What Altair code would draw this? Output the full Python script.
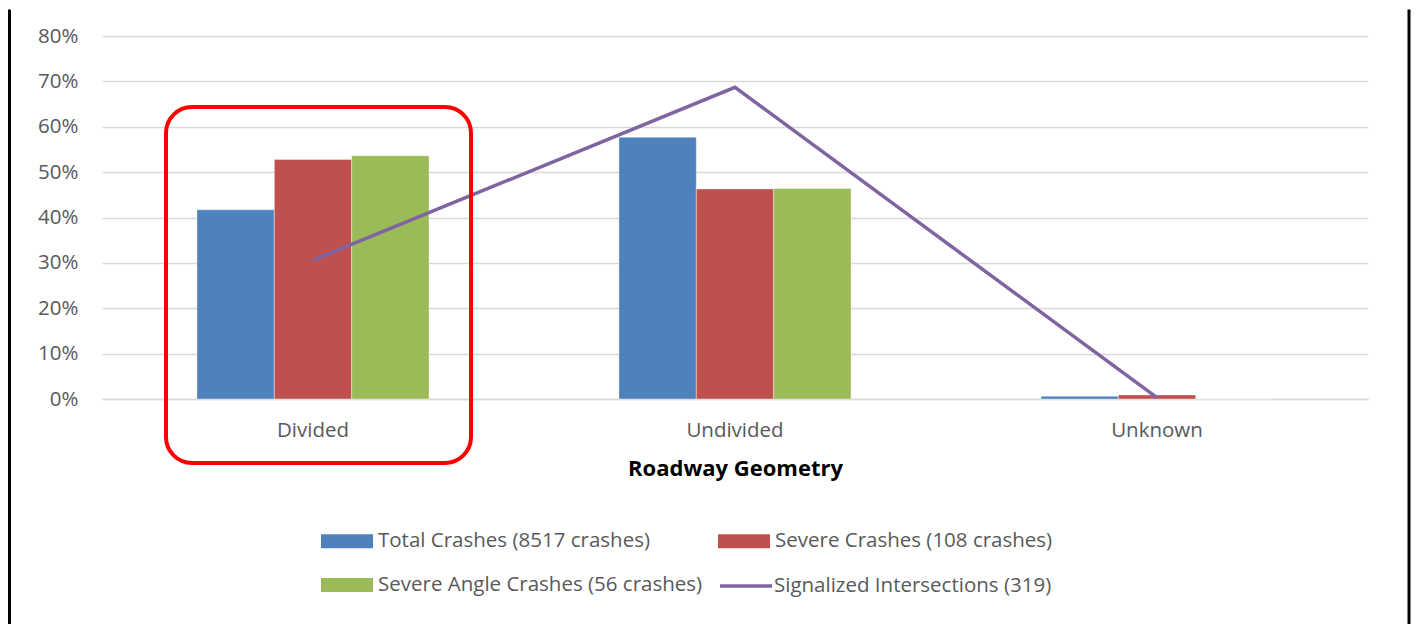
import altair as alt
import pandas as pd

categories = ["Divided", "Undivided", "Unknown"]
total_crashes = [0.417, 0.577, 0.006]
severe_crashes = [0.528, 0.463, 0.009]
severe_angle = [0.536, 0.464, 0.0]
signalized = [0.306, 0.687, 0.003]

bar_names = [
    "Total Crashes (8517 crashes)",
    "Severe Crashes (108 crashes)",
    "Severe Angle Crashes (56 crashes)",
]
bar_colors = ["#4F81BD", "#C0504D", "#9BBB59"]
line_name = "Signalized Intersections (319)"
line_color = "#8064A2"
y_ticks = [0, 0.1, 0.2, 0.3, 0.4, 0.5, 0.6, 0.7, 0.8]

bar_rows = []
for name, vals in zip(bar_names, [total_crashes, severe_crashes, severe_angle]):
    for c, v in zip(categories, vals):
        bar_rows.append({"cat": c, "series": name, "value": v})
bars_df = pd.DataFrame(bar_rows)
line_df = pd.DataFrame({"cat": categories, "series": line_name, "value": signalized})

FONT = "Open Sans"
FS = 20.5
RECT_PATH = "M-1,-0.27H1V0.27H-1Z"

bar_legend = alt.Legend(
    title=None, orient="none", legendX=219, legendY=479,
    direction="horizontal", columns=2,
    symbolSize=2704, symbolType=RECT_PATH, symbolStrokeWidth=0,
    labelFont=FONT, labelFontSize=FS, labelColor="#595959",
    labelOffset=5, columnPadding=15, rowPadding=7, padding=0, labelLimit=0,
)
line_legend = alt.Legend(
    title=None, orient="none", legendX=616, legendY=522,
    symbolSize=2704, symbolType="stroke", symbolStrokeWidth=3.5,
    labelFont=FONT, labelFontSize=FS, labelColor="#595959",
    labelOffset=0, padding=0, labelLimit=0,
)

x_enc = alt.X(
    "cat:N", sort=categories,
    scale=alt.Scale(paddingInner=0.45, paddingOuter=0.225),
    axis=alt.Axis(
        title="Roadway Geometry", labelAngle=0, labelFont=FONT, labelFontSize=FS,
        labelColor="#595959", labelPadding=21, ticks=False,
        domainColor="#d9d9d9", domainWidth=1.5,
        titleFont=FONT, titleFontSize=22, titleFontWeight="bold", titleColor="#000000",
        titlePadding=18,
    ),
)
y_enc = alt.Y(
    "value:Q",
    scale=alt.Scale(domain=[0, 0.8], nice=False),
    axis=alt.Axis(
        title=None, format=".0%", values=y_ticks, grid=True, gridColor="#d9d9d9",
        gridWidth=1.5, domain=False, ticks=False, labelPadding=24,
        labelFont=FONT, labelFontSize=FS, labelColor="#595959",
        minExtent=86, maxExtent=86,
    ),
)

bars = alt.Chart(bars_df).mark_bar(stroke="white", strokeWidth=0.4).encode(
    x=x_enc, y=y_enc,
    xOffset=alt.XOffset("series:N", sort=bar_names, scale=alt.Scale(paddingInner=0, paddingOuter=0)),
    color=alt.Color("series:N", scale=alt.Scale(domain=bar_names, range=bar_colors), legend=bar_legend),
)

line = alt.Chart(line_df).mark_line(strokeWidth=3.5).encode(
    x=x_enc, y=y_enc,
    stroke=alt.Stroke("series:N", scale=alt.Scale(domain=[line_name], range=[line_color]), legend=line_legend),
)

anno_df = pd.DataFrame({"a": [0]})
highlight = alt.Chart(anno_df).mark_rect(
    fillOpacity=0, stroke="#FF0000", strokeWidth=4, cornerRadius=26
).encode(
    x=alt.value(64), x2=alt.value(369), y=alt.value(71), y2=alt.value(427)
)

frame_left = alt.Chart(anno_df).mark_rule(color="black", strokeWidth=3).encode(
    x=alt.value(-92.5), y=alt.value(-26.5), y2=alt.value(588)
)
frame_right = alt.Chart(anno_df).mark_rule(color="black", strokeWidth=3).encode(
    x=alt.value(1307), y=alt.value(-26.5), y2=alt.value(588)
)

chart = alt.layer(bars, line, highlight, frame_left, frame_right).properties(
    width=1266, height=363, padding=0, background="white"
).configure_view(stroke=None)

chart.save("out.html", embed_options={"renderer": "svg", "actions": False})
